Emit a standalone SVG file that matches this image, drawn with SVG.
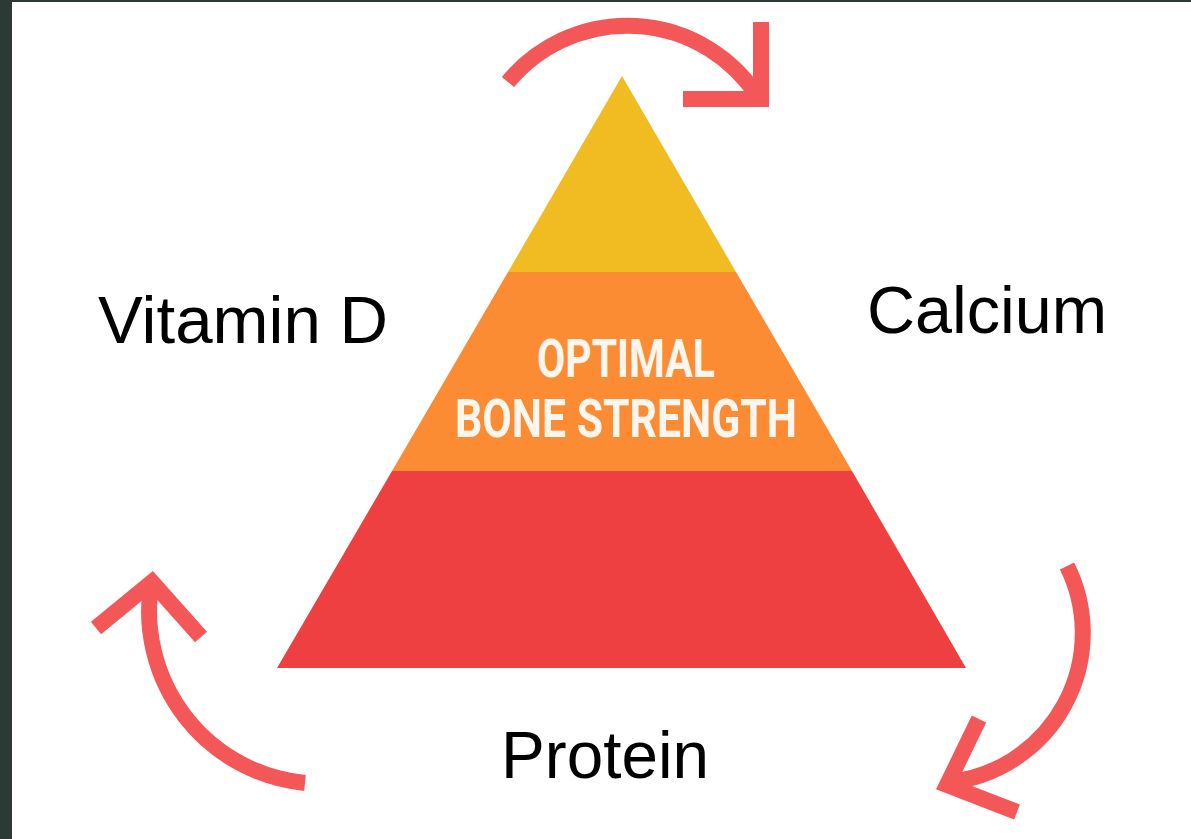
<svg xmlns="http://www.w3.org/2000/svg" width="1191" height="839" viewBox="0 0 1191 839">
<style>
.lbl{font-family:"Liberation Sans",Arial,sans-serif;font-size:67px;fill:#000}
.ttl{font-family:"Roboto","Liberation Sans",sans-serif;font-weight:bold;font-size:54px;fill:#fdf6ee}
.arc{fill:none;stroke:#f45757;stroke-width:16;stroke-linecap:butt;stroke-linejoin:miter}
</style>
<rect x="0" y="0" width="1191" height="839" fill="#ffffff"/>
<rect x="0" y="0" width="12" height="839" fill="#2b3a35"/>
<rect x="0" y="0" width="1191" height="2" fill="#2b3a35"/>
<g id="pyramid">
<polygon points="622,76 736,272 508,272" fill="#f0bc22"/>
<polygon points="508,272 736,272 852,471 392,471" fill="#fb8c34"/>
<polygon points="392,471 852,471 966,668 277,668" fill="#ee4040"/>
<text class="ttl" x="626" y="377" text-anchor="middle" textLength="178" lengthAdjust="spacingAndGlyphs">OPTIMAL</text>
<text class="ttl" x="626" y="437" text-anchor="middle" textLength="342" lengthAdjust="spacingAndGlyphs">BONE STRENGTH</text>
</g>
<g id="vitamin-d"><text class="lbl" x="98" y="343" textLength="290" lengthAdjust="spacingAndGlyphs">Vitamin D</text></g>
<g id="calcium"><text class="lbl" x="867" y="333" textLength="240" lengthAdjust="spacingAndGlyphs">Calcium</text></g>
<g id="protein"><text class="lbl" x="501" y="778" textLength="208" lengthAdjust="spacingAndGlyphs">Protein</text></g>
<g id="connectors">
<path class="arc" d="M508,82 A155,155 0 0 1 758,97"/>
<polyline class="arc" points="683,99 761,99 761,22"/>
<path class="arc" d="M1067,566 A150,150 0 0 1 950,782"/>
<polyline class="arc" points="979,719 947,785 1017,812"/>
<path class="arc" d="M305,783 A173,173 0 0 1 151,585"/>
<polyline class="arc" points="96,628 152,582 201,637"/>
</g>
</svg>
